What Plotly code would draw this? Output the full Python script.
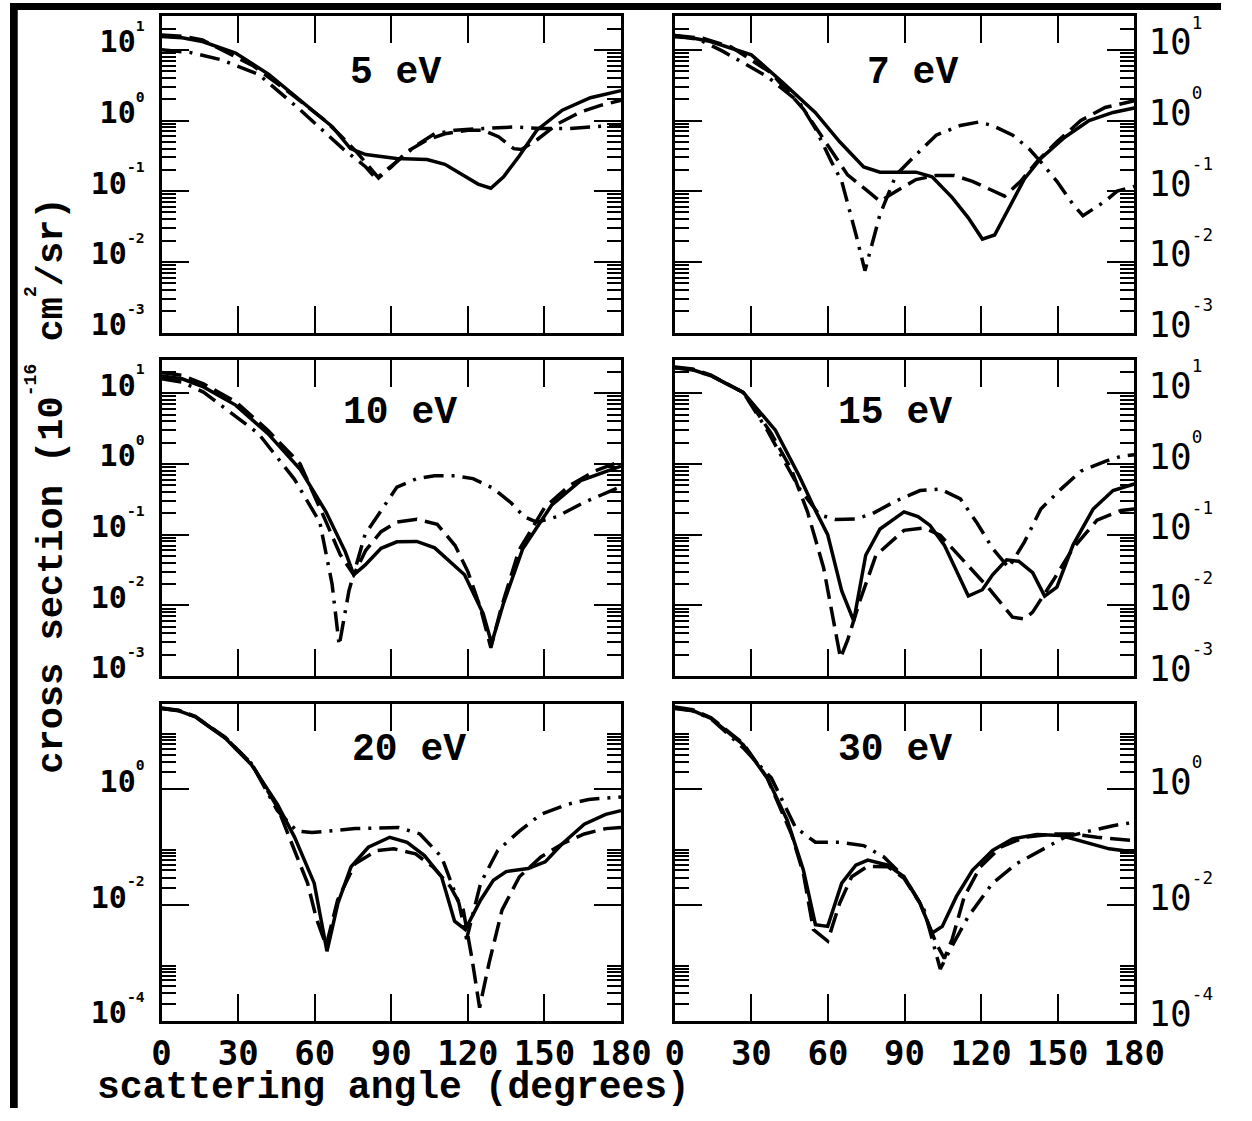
import math
import plotly.graph_objects as go

# ---------------- data ----------------
PANEL_LABELS = ["5 eV", "7 eV", "10 eV", "15 eV", "20 eV", "30 eV"]
X_TICKS = [0, 30, 60, 90, 120, 150, 180]

# 5 eV
ANG_5_SOLID = [0, 8, 16, 29, 42, 54, 67, 74, 80, 92, 104, 111, 119, 124, 129, 134, 140, 147, 157, 168, 180]
DCS_5_SOLID = [15.4, 14.8, 13.1, 9.0, 4.5, 2.0, 0.81, 0.40, 0.33, 0.29, 0.28, 0.24, 0.163, 0.126, 0.11, 0.16, 0.31, 0.73, 1.4, 2.1, 2.65]
ANG_5_DASH = [0, 8, 16, 36, 50, 64, 70, 77, 85, 90, 96, 104, 111, 120, 126, 132, 138, 141, 147, 155, 164, 172, 180]
DCS_5_DASH = [16.2, 15.6, 13.8, 5.9, 2.5, 1.0, 0.62, 0.34, 0.154, 0.22, 0.36, 0.53, 0.65, 0.73, 0.73, 0.59, 0.40, 0.39, 0.53, 0.89, 1.31, 1.64, 1.93]
ANG_5_DDOT = [0, 11, 23, 38, 54, 71, 80, 84, 92, 100, 107, 115, 126, 138, 149, 160, 172, 180]
DCS_5_DDOT = [10.0, 9.2, 7.3, 4.5, 1.45, 0.40, 0.22, 0.15, 0.26, 0.45, 0.65, 0.73, 0.77, 0.81, 0.77, 0.77, 0.83, 0.88]

# 7 eV
ANG_7_SOLID = [0, 7, 14, 30, 42.5, 55, 64.6, 74, 80.4, 94.5, 100.8, 108.7, 115, 120.5, 125.3, 130.8, 137, 143.4, 152.8, 162.3, 171.7, 180]
DCS_7_SOLID = [15.3, 14.7, 13.1, 8.5, 3.4, 1.3, 0.50, 0.22, 0.186, 0.186, 0.16, 0.081, 0.042, 0.021, 0.024, 0.058, 0.15, 0.29, 0.58, 1.0, 1.3, 1.5]
ANG_7_DASH = [0, 11, 22, 37.8, 50.4, 59.9, 67.7, 75.6, 80.4, 86.7, 94.5, 102.4, 109.5, 116.6, 124.5, 129.2, 135.5, 141.8, 149.7, 159.1, 168.6, 180]
DCS_7_DASH = [16.0, 14.6, 11.0, 4.7, 1.45, 0.45, 0.17, 0.10, 0.072, 0.10, 0.146, 0.167, 0.167, 0.138, 0.10, 0.085, 0.138, 0.26, 0.50, 1.0, 1.53, 1.9]
ANG_7_DDOT = [0, 9.5, 18.9, 36.2, 48.8, 55.1, 61.4, 65.4, 70.9, 74.5, 80.4, 86.7, 93, 102.4, 111.9, 119, 124.5, 132.4, 138.7, 143.4, 149.7, 156, 159.9, 168.6, 173.3, 180]
DCS_7_DDOT = [16.0, 14.0, 9.5, 4.2, 1.8, 0.77, 0.26, 0.138, 0.025, 0.0075, 0.047, 0.17, 0.29, 0.62, 0.85, 0.95, 0.85, 0.62, 0.40, 0.26, 0.138, 0.065, 0.045, 0.072, 0.10, 0.117]

# 10 eV
ANG_10_SOLID = [0, 8, 16.4, 29, 41.6, 54.3, 64.4, 72, 75.3, 79.7, 86, 92.2, 100, 107, 118.7, 126, 129.3, 133.9, 141.5, 152.8, 164.2, 180]
DCS_10_SOLID = [17.5, 16.0, 12.3, 6.8, 2.7, 0.84, 0.21, 0.057, 0.027, 0.037, 0.064, 0.079, 0.080, 0.065, 0.027, 0.0076, 0.0029, 0.0105, 0.063, 0.26, 0.58, 0.93]
ANG_10_DASH = [0, 8, 16.4, 29, 41.6, 54.3, 64.5, 70, 75.3, 80, 86, 92, 100, 108, 115, 120, 125, 129, 133, 140, 150, 160, 170, 180]
DCS_10_DASH = [19.6, 17.9, 13.6, 7.6, 3.0, 1.0, 0.15, 0.052, 0.027, 0.06, 0.11, 0.15, 0.165, 0.14, 0.07, 0.03, 0.009, 0.0025, 0.009, 0.06, 0.24, 0.5, 0.8, 1.1]
ANG_10_DDOT = [0, 8, 16.4, 37.9, 52, 62, 66.8, 69.6, 73.4, 79.7, 92.2, 100, 107, 115, 122, 130, 137, 142, 147, 155, 165, 180]
DCS_10_DDOT = [16.0, 14.4, 10.4, 2.7, 0.61, 0.15, 0.02, 0.0027, 0.016, 0.10, 0.47, 0.62, 0.68, 0.68, 0.62, 0.45, 0.28, 0.18, 0.15, 0.18, 0.28, 0.48]

# 15 eV
ANG_15_SOLID = [0, 7, 14.2, 26.8, 39.4, 48.8, 55.1, 59.9, 65.4, 70.1, 74.8, 80.4, 89.8, 95.3, 100, 105.6, 115, 120.5, 124.5, 130, 134.7, 140.2, 144.9, 149.7, 156, 163.9, 171.7, 180]
DCS_15_SOLID = [23.0, 21.5, 17.7, 10.3, 3.0, 0.67, 0.22, 0.10, 0.016, 0.006, 0.051, 0.12, 0.21, 0.18, 0.135, 0.071, 0.0135, 0.0166, 0.027, 0.044, 0.042, 0.029, 0.0135, 0.018, 0.071, 0.23, 0.42, 0.52]
ANG_15_DASH = [0, 7, 14.2, 26.8, 37.8, 45.7, 52, 58.3, 64.9, 67.7, 72.5, 78.8, 89.8, 97.7, 104, 113.4, 122.9, 132.3, 137, 140.2, 148.1, 156, 165.4, 174.9, 180]
DCS_15_DASH = [23.5, 22.0, 18.0, 10.3, 2.7, 0.83, 0.21, 0.034, 0.0018, 0.0032, 0.0115, 0.051, 0.115, 0.124, 0.098, 0.041, 0.0176, 0.0068, 0.0064, 0.008, 0.022, 0.064, 0.16, 0.22, 0.23]
ANG_15_DDOT = [0, 7, 14.2, 26.8, 36.2, 48.8, 56.7, 63, 70.9, 77.2, 86.7, 96.1, 104, 111.9, 118.2, 124.5, 130.8, 137, 143.4, 151.3, 159.1, 168.6, 174.9, 180]
DCS_15_DDOT = [23.0, 21.5, 17.7, 10.3, 3.0, 0.45, 0.19, 0.164, 0.167, 0.196, 0.30, 0.42, 0.44, 0.32, 0.15, 0.064, 0.034, 0.079, 0.23, 0.44, 0.79, 1.09, 1.28, 1.35]

# 20 eV
ANG_20_SOLID = [0, 6.6, 13.2, 25, 35.2, 45.4, 52.1, 59.8, 64.8, 69.1, 74.2, 81, 89.4, 96.2, 103, 109.7, 114.8, 119, 125, 130, 135, 143.6, 150.3, 157, 165.6, 174, 180]
DCS_20_SOLID = [24.9, 22.9, 17.9, 7.6, 2.67, 0.55, 0.15, 0.024, 0.0016, 0.0108, 0.046, 0.10, 0.149, 0.122, 0.072, 0.031, 0.0053, 0.0038, 0.0123, 0.027, 0.038, 0.043, 0.056, 0.115, 0.25, 0.37, 0.43]
ANG_20_DASH = [0, 6.6, 13.2, 25, 35.2, 45.4, 52.1, 57.2, 60.6, 64.5, 69, 75.8, 84.3, 91, 99.5, 106.3, 113.1, 118.2, 121.6, 124.6, 128.3, 133.4, 140.2, 148.6, 157.1, 165.6, 174, 180]
DCS_20_DASH = [25.5, 23.4, 18.2, 7.9, 2.8, 0.49, 0.088, 0.024, 0.006, 0.002, 0.0124, 0.052, 0.088, 0.094, 0.077, 0.046, 0.021, 0.0083, 0.0012, 0.00017, 0.001, 0.0083, 0.031, 0.068, 0.115, 0.17, 0.21, 0.22]
ANG_20_DDOT = [0, 6.6, 13.2, 25, 35.2, 45.4, 53, 58.9, 75.8, 92.8, 101.2, 109.7, 116.5, 119.5, 125, 131.7, 140.2, 148.6, 158.8, 167.3, 180]
DCS_20_DDOT = [25.0, 23.0, 17.9, 7.8, 2.8, 0.43, 0.19, 0.18, 0.21, 0.22, 0.17, 0.068, 0.0108, 0.0026, 0.024, 0.088, 0.19, 0.37, 0.55, 0.67, 0.74]

# 30 eV
ANG_30_SOLID = [0, 7, 14.2, 26.8, 36.2, 44.1, 50.4, 55.1, 59.9, 65.4, 70.9, 75.6, 83.5, 89.8, 96.1, 100.8, 104.8, 110.3, 116.6, 124.5, 132.3, 141.8, 151.3, 160.7, 170.2, 180]
DCS_30_SOLID = [25.5, 23.0, 16.8, 5.9, 1.58, 0.29, 0.040, 0.0046, 0.0043, 0.024, 0.049, 0.060, 0.049, 0.031, 0.0108, 0.0033, 0.0043, 0.014, 0.040, 0.088, 0.14, 0.166, 0.16, 0.122, 0.094, 0.083]
ANG_30_DASH = [0, 7, 14.2, 26.8, 36.2, 45.7, 50.4, 54.3, 59.9, 64.6, 69.3, 75.6, 83.5, 89.8, 96.1, 102.4, 105.6, 108.7, 113.4, 119.7, 127.6, 137, 148, 156, 165.4, 180]
DCS_30_DASH = [26.5, 23.8, 17.2, 6.2, 1.58, 0.17, 0.035, 0.0038, 0.0024, 0.0108, 0.031, 0.047, 0.046, 0.029, 0.0108, 0.0022, 0.0012, 0.0026, 0.014, 0.046, 0.10, 0.149, 0.17, 0.17, 0.149, 0.13]
ANG_30_DDOT = [0, 7, 14.2, 26.8, 37.8, 47.3, 55.1, 64.6, 74, 81.9, 89.8, 97.7, 104, 108.7, 115, 124.5, 133.9, 143.4, 152.8, 162.3, 171.7, 180]
DCS_30_DDOT = [25.0, 22.7, 16.6, 5.2, 1.58, 0.22, 0.122, 0.122, 0.107, 0.068, 0.031, 0.0083, 0.00079, 0.002, 0.0064, 0.024, 0.052, 0.088, 0.149, 0.19, 0.236, 0.27]

PANEL_SERIES = [
    [(ANG_5_SOLID, DCS_5_SOLID), (ANG_5_DASH, DCS_5_DASH), (ANG_5_DDOT, DCS_5_DDOT)],
    [(ANG_7_SOLID, DCS_7_SOLID), (ANG_7_DASH, DCS_7_DASH), (ANG_7_DDOT, DCS_7_DDOT)],
    [(ANG_10_SOLID, DCS_10_SOLID), (ANG_10_DASH, DCS_10_DASH), (ANG_10_DDOT, DCS_10_DDOT)],
    [(ANG_15_SOLID, DCS_15_SOLID), (ANG_15_DASH, DCS_15_DASH), (ANG_15_DDOT, DCS_15_DDOT)],
    [(ANG_20_SOLID, DCS_20_SOLID), (ANG_20_DASH, DCS_20_DASH), (ANG_20_DDOT, DCS_20_DDOT)],
    [(ANG_30_SOLID, DCS_30_SOLID), (ANG_30_DASH, DCS_30_DASH), (ANG_30_DDOT, DCS_30_DDOT)],
]

# ---------------- layout ----------------
W, H = 1252, 1121
COL_X = [(156.7, 631.7), (687.3, 1162.3)]
ROW_Y = [(13.3, 334.3), (361.7, 682.7), (711.0, 1032.7)]
LABEL_POS = [(399, 70), (933, 70), (403, 415), (915, 415), (413, 757), (915, 757)]

DASHES = ["solid", "20px,8px", "20px,8px,3px,8px"]
MONO = "DejaVu Sans Mono"
COURIER = "Liberation Mono"


def sup(e):
    return "10<sup><sup>%d</sup></sup>" % e


fig = go.Figure()
layout = dict(
    width=W, height=H, margin=dict(l=0, r=0, t=0, b=0),
    paper_bgcolor="white", plot_bgcolor="white", showlegend=False,
)

annotations = []
for i in range(6):
    r, c = divmod(i, 2)
    xs = "x" if i == 0 else "x%d" % (i + 1)
    ys = "y" if i == 0 else "y%d" % (i + 1)
    xk = "xaxis" if i == 0 else "xaxis%d" % (i + 1)
    yk = "yaxis" if i == 0 else "yaxis%d" % (i + 1)
    x0, x1 = COL_X[c]
    ytop, ybot = ROW_Y[r]
    bottom_row = (r == 2)

    for k, (ang, val) in enumerate(PANEL_SERIES[i]):
        fig.add_trace(go.Scatter(
            x=ang, y=val, mode="lines", xaxis=xs, yaxis=ys,
            line=dict(color="black", width=3.5, dash=DASHES[k]),
            hoverinfo="skip",
        ))

    layout[xk] = dict(
        domain=[x0 / W, x1 / W], anchor=ys, range=[0, 180],
        tickmode="array", tickvals=X_TICKS, ticktext=[str(t) for t in X_TICKS],
        ticks="inside", ticklen=27, tickwidth=2, tickcolor="black",
        showline=True, linewidth=3, linecolor="black", mirror="allticks",
        showgrid=False, zeroline=False,
        showticklabels=bottom_row,
        tickfont=dict(family=MONO, size=34, color="black", weight="bold"),
        ticklabelstandoff=0,
    )

    if bottom_row:
        exps = [-4, -2, 0]
        lo = -4
        minor_vals = [k * 10.0 ** d for d in (-4, -2, 0) for k in range(2, 10)]
    else:
        exps = [-3, -2, -1, 0, 1]
        lo = -3
        minor_vals = [k * 10.0 ** d for d in range(-3, 2) for k in range(2, 10) if k * 10.0 ** d <= 30]

    right = (c == 1)
    layout[yk] = dict(
        domain=[1 - ybot / H, 1 - ytop / H], anchor=xs, type="log",
        range=[lo, math.log10(30)],
        tickmode="array", tickvals=[10.0 ** e for e in exps], ticktext=[sup(e) for e in exps],
        ticks="inside", ticklen=27, tickwidth=2, tickcolor="black",
        minor=dict(tickmode="array", tickvals=minor_vals, ticks="inside", ticklen=14,
                   tickwidth=2, tickcolor="black", showgrid=False),
        showline=True, linewidth=3, linecolor="black", mirror="allticks",
        showgrid=False, zeroline=False,
        side="right" if right else "left",
        tickfont=(dict(family=MONO, size=36, color="black") if right
                  else dict(family=MONO, size=30, color="black", weight="bold")),
        ticklabelstandoff=4 if right else 8,
        ticklabelshift=-8,
    )

    lx, ly = LABEL_POS[i]
    annotations.append(dict(
        text=PANEL_LABELS[i], x=lx / W, y=1 - ly / H, xref="paper", yref="paper",
        showarrow=False, xanchor="center", yanchor="middle",
        font=dict(family=COURIER, size=38, color="black", weight="bold"),
    ))

annotations.append(dict(
    text="scattering angle (degrees)", x=397 / W, y=1 - 1100 / H,
    xref="paper", yref="paper", showarrow=False, xanchor="center", yanchor="middle",
    font=dict(family=COURIER, size=38, color="black", weight="bold"),
))
annotations.append(dict(
    text="cross section (10<sup><sup>-16</sup></sup> cm<sup><sup>2</sup></sup>/sr)",
    x=38 / W, y=1 - 490 / H,
    xref="paper", yref="paper", showarrow=False, textangle=-90,
    xanchor="center", yanchor="middle",
    font=dict(family=COURIER, size=37, color="black", weight="bold"),
))
layout["annotations"] = annotations
layout["shapes"] = [
    dict(type="rect", xref="paper", yref="paper", x0=0, x1=8 / W, y0=0, y1=1,
         fillcolor="black", line=dict(width=0), layer="above"),
    dict(type="rect", xref="paper", yref="paper", x0=0, x1=1, y0=1 - 7 / H, y1=1,
         fillcolor="black", line=dict(width=0), layer="above"),
]

fig.update_layout(**layout)

PAGE_JS = (
    "document.body.style.margin='0';"
    "document.body.style.overflow='hidden';"
)
fig.write_html(
    "out.html",
    config={"displayModeBar": False},
    post_script=PAGE_JS,
)
